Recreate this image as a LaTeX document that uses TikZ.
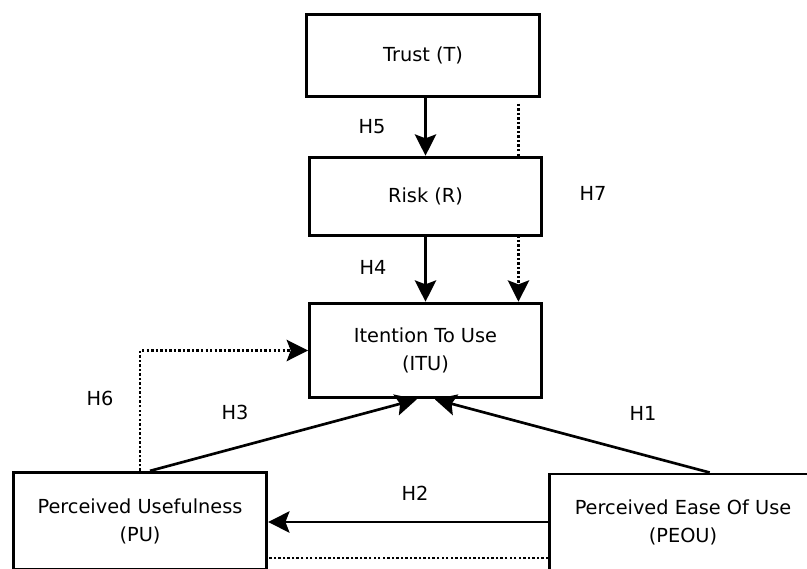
\documentclass[tikz,border=0pt]{standalone}
\usepackage{fontspec}
\setmainfont{DejaVu Sans}
\usetikzlibrary{arrows.meta,positioning,calc,backgrounds}

\begin{document}
\begin{tikzpicture}[x=0.75pt, y=-0.75pt,
  construct/.style={rectangle, draw, line width=2.2pt, fill=white, align=center, inner sep=0pt, font=\fontsize{14.5}{21}\selectfont},
  arr/.style={-{Stealth[length=16pt,width=16pt,inset=3pt]}, line width=2pt},
  dotarr/.style={arr, dash pattern=on 1.8pt off 1.6pt},
  dotline/.style={line width=2pt, dash pattern=on 1.8pt off 1.6pt},
  hyp/.style={font=\fontsize{14.5}{21}\selectfont}
]
  \clip (0,0) rectangle (807,568);
  \node[construct, minimum width=175pt, minimum height=62pt] (trust) at (423,55.5) {Trust (T)};
  \node[construct, minimum width=174pt, minimum height=59pt] (risk) at (425.5,196.5) {Risk (R)};
  \node[construct, minimum width=174pt, minimum height=71pt] (itu) at (425.5,350.5) {Itention To Use\\(ITU)};
  \node[construct, minimum width=190pt, minimum height=73pt] (pu) at (140,521) {Perceived Usefulness\\(PU)};
  \node[construct, minimum width=200pt, minimum height=72pt] (peou) at (683,522) {Perceived Ease Of Use\\(PEOU)};

  \draw[arr] (trust.south -| risk.north) -- (risk.north);
  \draw[arr] (risk.south) -- (itu.north);
  \begin{scope}[on background layer]
    \draw[dotarr] ([xshift=-17pt,yshift=-4pt]trust.south east) -- ([xshift=-17pt]trust.south east |- itu.north);
  \end{scope}
  \draw[dotarr] (pu.north) |- (itu.west);
  \draw[arr] ([xshift=7.5pt]pu.north) -- ([xshift=-6.5pt]itu.south);
  \draw[arr] ([xshift=20pt]peou.north) -- ([xshift=7pt]itu.south);
  \draw[arr] (peou.west) -- (peou.west -| pu.east);
  \draw[dotline] ([yshift=-27pt]peou.west) -- ([yshift=-27pt]peou.west -| pu.east);

  \node[hyp] (h5) at (372,127) {H5};
  \node[hyp] (h4) at (373,267) {H4};
  \node[hyp] (h7) at (593,193) {H7};
  \node[hyp] (h6) at (100,398) {H6};
  \node[hyp] (h3) at (235,412) {H3};
  \node[hyp] (h1) at (643,413) {H1};
  \node[hyp] (h2) at (415,493) {H2};
\end{tikzpicture}
\end{document}
